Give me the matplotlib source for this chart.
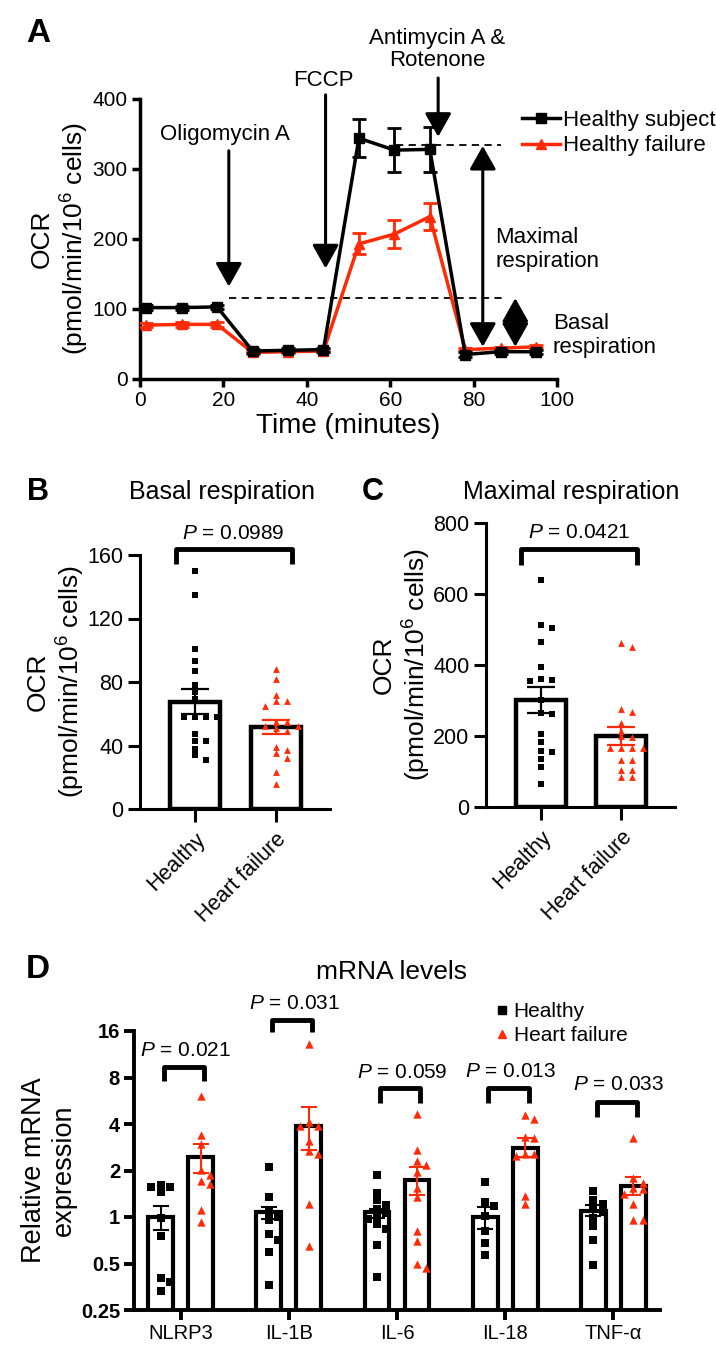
import numpy as np
import matplotlib
matplotlib.use('Agg')
import matplotlib.pyplot as plt
from matplotlib import font_manager
from matplotlib.lines import Line2D

# ---------------- data ----------------
# Panel A: Seahorse OCR trace
time_min = [1.5, 10, 18.5, 27, 35.5, 44, 52.5, 61, 69.5, 78, 86.5, 95]
ocr_healthy = [102, 102, 103, 40, 41, 42, 344, 327, 328, 35, 39, 39]
ocr_healthy_sem = [4, 3, 3, 3, 3, 3, 27, 31, 32, 3, 3, 3]
ocr_hf = [77, 78, 78, 38, 39, 40, 193, 207, 232, 42, 44, 46]
ocr_hf_sem = [3, 3, 3, 2, 2, 2, 15, 20, 19, 2, 2, 2]

# Panel B: basal respiration
basal_healthy = [150, 135, 101, 93, 87, 78, 74, 69, 58, 58, 58, 58, 47, 43, 43, 38, 34, 31]
basal_hf = [88, 82, 72, 68, 68, 65, 55, 55, 52, 52, 51, 49, 39, 37, 35, 32, 23, 16]
basal_mean = [67.5, 51.5]
basal_sem = [7.8, 4.4]

# Panel C: maximal respiration
max_healthy = [639, 512, 505, 465, 395, 357, 355, 360, 302, 266, 262, 206, 182, 158, 154, 135, 112, 65]
max_hf = [461, 450, 275, 267, 236, 215, 197, 200, 166, 166, 166, 166, 133, 133, 103, 103, 84, 84]
max_mean = [302, 199]
max_sem = [36, 25]

groups = ['Healthy', 'Heart failure']

# Panel D: mRNA levels
genes = ['NLRP3', 'IL-1B', 'IL-6', 'IL-18', 'TNF-\u03b1']
mrna_healthy = [
    [1.56, 1.56, 1.45, 1.62, 0.98, 0.75, 0.40, 0.38, 0.33],
    [2.11, 1.35, 1.07, 1.0, 0.96, 0.71, 0.78, 0.59, 0.365],
    [1.87, 1.44, 1.28, 1.20, 1.12, 1.06, 1.0, 0.97, 0.90, 0.84, 0.66, 0.41],
    [1.68, 1.17, 1.25, 1.01, 0.81, 0.68, 0.57],
    [1.47, 1.21, 1.28, 1.12, 0.99, 1.07, 0.87, 0.71, 0.49],
]
mrna_hf = [
    [6.05, 3.41, 2.95, 2.02, 1.86, 1.71, 1.64, 1.11, 0.935],
    [13.2, 3.86, 4.12, 3.9, 3.1, 2.57, 2.66, 1.22, 0.65],
    [4.64, 2.71, 2.32, 1.97, 2.17, 1.53, 1.34, 0.815, 0.70, 0.465, 0.50],
    [4.55, 4.28, 3.25, 3.31, 2.55, 2.55, 2.48, 1.37, 1.22],
    [3.26, 1.80, 1.53, 1.67, 1.51, 1.40, 1.22, 0.95, 0.95],
]
mrna_healthy_mean = [1.0, 1.07, 1.07, 1.0, 1.10]
mrna_healthy_err = [[0.18, 0.10, 0.08, 0.16, 0.09], [0.18, 0.09, 0.06, 0.16, 0.09]]
mrna_hf_mean = [2.43, 3.88, 1.74, 2.81, 1.59]
mrna_hf_err = [[0.51, 1.18, 0.35, 0.35, 0.21], [0.54, 1.25, 0.38, 0.42, 0.22]]
p_values = ['0.021', '0.031', '0.059', '0.013', '0.033']
bracket_top = [9.4, 18.9, 6.8, 6.8, 5.58]
bracket_leg = [7.57, 15.7, 5.5, 5.5, 4.46]
p_text_y = [12.0, 24.0, 8.6, 8.8, 7.26]

# ---------------- style ----------------
RED = '#FF2B06'
names = {f.name for f in font_manager.fontManager.ttflist}
ARIAL = 'Liberation Sans'
NARROW = 'Liberation Sans Narrow' if 'Liberation Sans Narrow' in names else 'Liberation Sans'

plt.rcParams['font.family'] = [ARIAL, 'DejaVu Sans']
plt.rcParams['mathtext.fontset'] = 'custom'
plt.rcParams['mathtext.rm'] = ARIAL
plt.rcParams['mathtext.it'] = ARIAL + ':italic'
plt.rcParams['mathtext.bf'] = ARIAL + ':bold'
plt.rcParams['mathtext.default'] = 'regular'

W, H = 716, 1370
fig = plt.figure(figsize=(W / 100, H / 100), dpi=100)


def fig_box(x0, y_top, x1, y_bottom):
    return [x0 / W, 1 - y_bottom / H, (x1 - x0) / W, (y_bottom - y_top) / H]


def fig_text(x, y, s, **kw):
    fig.text(x / W, 1 - y / H, s, ha='center', va='center', **kw)


def swarm(vals, step, tol):
    # simple greedy beeswarm, returns x offsets
    order = np.argsort(vals)[::-1]
    placed = []
    offs = np.zeros(len(vals))
    for i in order:
        v = vals[i]
        for k in [0, 1, -1, 2, -2, 3, -3, 4, -4]:
            o = k * step
            if all(not (abs(o - po) < step * 0.9 and abs(v - pv) < tol) for po, pv in placed):
                break
        offs[i] = o
        placed.append((o, v))
    return offs


def clean(ax, lw):
    for s in ['top', 'right']:
        ax.spines[s].set_visible(False)
    for s in ['left', 'bottom']:
        ax.spines[s].set_linewidth(lw)


# ---------------- panel A ----------------
axA = fig.add_axes(fig_box(140, 99, 557, 379))
clean(axA, 2.5)
fA = dict(family=[NARROW, ARIAL])
axA.errorbar(time_min, ocr_hf, yerr=ocr_hf_sem, color=RED, marker='^', ms=7.5, lw=2.5,
             capsize=5, elinewidth=2, capthick=2, label='Healthy failure', zorder=3)
axA.errorbar(time_min, ocr_healthy, yerr=ocr_healthy_sem, color='black', marker='s', ms=7.5, lw=2.5,
             capsize=5, elinewidth=2, capthick=2, label='Healthy subject', zorder=4)
axA.set_xlim(0, 100)
axA.set_ylim(0, 400)
axA.set_xticks([0, 20, 40, 60, 80, 100])
axA.set_yticks([0, 100, 200, 300, 400])
axA.tick_params(width=2.5, length=6, labelsize=15, pad=3)
for t in axA.get_xticklabels() + axA.get_yticklabels():
    t.set_family([NARROW, ARIAL])
axA.set_xlabel('Time (minutes)', fontsize=20, labelpad=2, **fA)
axA.set_ylabel('OCR\n(pmol/min/10$^{6}$ cells)', fontsize=19, labelpad=1, **fA)

axA.hlines(334, 61.5, 86.5, colors='black', linestyles=(0, (4, 3)), lw=1.3)
axA.hlines(115.5, 21.3, 88, colors='black', linestyles=(0, (4, 3)), lw=1.3)

arrow = dict(arrowstyle='-|>,head_length=0.8,head_width=0.45', color='black', lw=2.2,
             mutation_scale=18, shrinkA=0, shrinkB=0)
darrow = dict(arrowstyle='<|-|>,head_length=0.8,head_width=0.45', color='black', lw=2.2,
              mutation_scale=18, shrinkA=0, shrinkB=0)
axA.annotate('', xy=(21.3, 132), xytext=(21.3, 326), arrowprops=arrow, annotation_clip=False)
axA.annotate('', xy=(44.5, 158), xytext=(44.5, 406), arrowprops=arrow, annotation_clip=False)
axA.annotate('', xy=(71.5, 346), xytext=(71.5, 430), arrowprops=arrow, annotation_clip=False)
axA.annotate('', xy=(82.2, 46), xytext=(82.2, 333), arrowprops=darrow, annotation_clip=False)
axA.annotate('', xy=(90, 46), xytext=(90, 115.5), arrowprops=darrow, annotation_clip=False)

axA.text(20.3, 349, 'Oligomycin A', ha='center', va='center', fontsize=16, **fA)
axA.text(44.0, 427, 'FCCP', ha='center', va='center', fontsize=16, **fA)
axA.text(71.2, 471, 'Antimycin A &\nRotenone', ha='center', va='center', fontsize=16,
         linespacing=1.05, **fA)
axA.text(85.2, 185, 'Maximal\nrespiration', ha='left', va='center', fontsize=16,
         linespacing=1.15, clip_on=False, **fA)
axA.text(99, 62, 'Basal\nrespiration', ha='left', va='center', fontsize=16,
         linespacing=1.15, clip_on=False, **fA)

hA = [Line2D([], [], color='black', marker='s', ms=7.5, lw=2.5),
      Line2D([], [], color=RED, marker='^', ms=7.5, lw=2.5)]
fig.legend(hA, ['Healthy subject', 'Healthy failure'], loc='upper left',
           bbox_to_anchor=(522 / W, 1 - 110 / H), frameon=False, handlelength=1.7,
           handletextpad=0.15, labelspacing=0.2, borderpad=0, borderaxespad=0,
           prop=dict(family=[NARROW, ARIAL], size=16))
fig_text(38, 33, 'A', fontsize=24, fontweight='bold', family=[NARROW, ARIAL])


# ---------------- panels B and C ----------------
def bar_panel(ax, vals_h, vals_f, means, sems, ylim, yticks, tol, p_text, b_top, b_leg, t_y):
    clean(ax, 2.2)
    ax.bar([0, 1], means, width=0.625, color='white', edgecolor='black', lw=3.2, zorder=1)
    vh = np.array(vals_h, float)
    vf = np.array(vals_f, float)
    ax.scatter(0 + swarm(vh, 0.135, tol), vh, marker='s', s=18, color='black', lw=0, zorder=3)
    ax.scatter(1 + swarm(vf, 0.135, tol), vf, marker='^', s=24, color=RED, lw=0, zorder=3)
    ax.errorbar([0], [means[0]], yerr=[sems[0]], color='black', capsize=10, elinewidth=1.6,
                capthick=1.6, ls='none', zorder=4)
    ax.errorbar([1], [means[1]], yerr=[sems[1]], color=RED, capsize=10, elinewidth=1.6,
                capthick=1.6, ls='none', zorder=4)
    ax.set_xlim(-0.68, 1.67)
    ax.set_ylim(*ylim)
    ax.set_yticks(yticks)
    ax.set_xticks([0, 1])
    ax.set_xticklabels(groups, rotation=45, ha='right', rotation_mode='anchor')
    ax.tick_params(width=2.2, length=9, labelsize=15.5, pad=3)
    ax.tick_params(axis='x', pad=5)
    ax.plot([-0.24, -0.24, 1.2, 1.2], [b_leg, b_top, b_top, b_leg], color='black', lw=3.5,
            clip_on=False, solid_capstyle='butt')
    ax.text(0.48, t_y, r'$\mathit{P}$ = ' + p_text, ha='center', va='center', fontsize=15)
    ax.set_ylabel('OCR\n(pmol/min/10$^{6}$ cells)', fontsize=19, labelpad=0)


axB = fig.add_axes(fig_box(140, 555, 330, 809))
bar_panel(axB, basal_healthy, basal_hf, basal_mean, basal_sem, (0, 160), [0, 40, 80, 120, 160],
          3.5, '0.0989', 164, 154.5, 173.6)
axC = fig.add_axes(fig_box(486, 523, 675, 807))
bar_panel(axC, max_healthy, max_hf, max_mean, max_sem, (0, 800), [0, 200, 400, 600, 800],
          13, '0.0421', 727, 681, 772)

fig_text(38, 492, 'B', fontsize=22, fontweight='bold')
fig_text(222, 492, 'Basal respiration', fontsize=18)
fig_text(373, 492, 'C', fontsize=22, fontweight='bold')
fig_text(571, 492, 'Maximal respiration', fontsize=18)

# ---------------- panel D ----------------
axD = fig.add_axes(fig_box(134, 1031, 660, 1310))
clean(axD, 2.8)
axD.set_yscale('log', base=2)
x = np.arange(len(genes))
off, bw = 0.185, 0.23
axD.bar(x - off, mrna_healthy_mean, width=bw, color='white', edgecolor='black', lw=3, zorder=1)
axD.bar(x + off, mrna_hf_mean, width=bw, color='white', edgecolor='black', lw=3, zorder=1)
for i in range(len(genes)):
    vh = np.array(mrna_healthy[i], float)
    vf = np.array(mrna_hf[i], float)
    axD.scatter(x[i] - off + swarm(np.log2(vh), 0.085, 0.14), vh, marker='s', s=32,
                color='black', lw=0, zorder=3)
    axD.scatter(x[i] + off + swarm(np.log2(vf), 0.085, 0.14), vf, marker='^', s=36,
                color=RED, lw=0, zorder=3)
    axD.plot([x[i] - off + 0.03, x[i] - off + 0.03, x[i] + off + 0.03, x[i] + off + 0.03],
             [bracket_leg[i], bracket_top[i], bracket_top[i], bracket_leg[i]], color='black',
             lw=3.5, clip_on=False, solid_capstyle='butt')
    axD.text(x[i] + 0.05, p_text_y[i], r'$\mathit{P}$ = ' + p_values[i], ha='center',
             va='center', fontsize=15, clip_on=False)
axD.errorbar(x - off, mrna_healthy_mean, yerr=mrna_healthy_err, color='black', capsize=6,
             elinewidth=1.5, capthick=1.5, ls='none', zorder=4)
axD.errorbar(x + off, mrna_hf_mean, yerr=mrna_hf_err, color=RED, capsize=6,
             elinewidth=1.5, capthick=1.5, ls='none', zorder=4)
axD.set_xlim(-0.43, 4.43)
axD.set_ylim(0.25, 16)
axD.set_yticks([0.25, 0.5, 1, 2, 4, 8, 16])
axD.set_yticklabels(['0.25', '0.5', '1', '2', '4', '8', '16'])
axD.yaxis.set_minor_locator(matplotlib.ticker.NullLocator())
axD.set_xticks(x)
axD.set_xticklabels(genes)
axD.tick_params(width=2.8, length=7, labelsize=14.5, pad=3)
for t in axD.get_yticklabels():
    t.set_fontweight('bold')
    t.set_family([NARROW, ARIAL])
for t in axD.get_xticklabels():
    t.set_family([NARROW, ARIAL])
axD.set_ylabel('Relative mRNA\nexpression', fontsize=19.5, labelpad=3)

hD = [Line2D([], [], color='black', marker='s', ms=6, lw=0),
      Line2D([], [], color=RED, marker='^', ms=6, lw=0)]
fig.legend(hD, ['Healthy', 'Heart failure'], loc='upper left',
           bbox_to_anchor=(497 / W, 1 - 1002 / H), frameon=False, handlelength=0.5,
           handletextpad=0.3, labelspacing=0.25, borderpad=0, borderaxespad=0,
           prop=dict(size=15))
fig_text(38, 970, 'D', fontsize=24, fontweight='bold', family=[NARROW, ARIAL])
fig_text(392, 972, 'mRNA levels', fontsize=19, family=[NARROW, ARIAL])

fig.savefig('out.png', dpi=100)
